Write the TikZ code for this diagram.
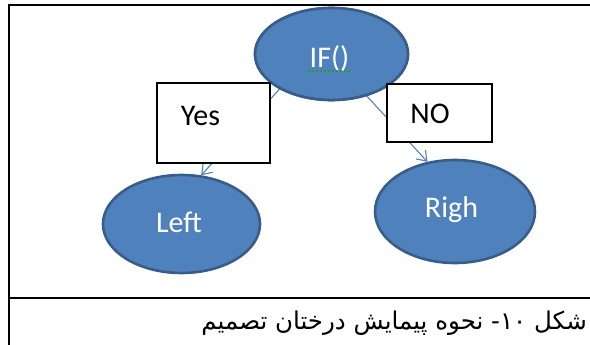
\documentclass[tikz,border=0pt]{standalone}
\usepackage{fontspec}
\usetikzlibrary{shapes.geometric,arrows.meta}
\setmainfont{Carlito}
\newfontfamily\arabicfont[Script=Arabic]{DejaVu Sans}
\TeXXeTstate=1
\definecolor{ofblue}{HTML}{4F81BD}
\definecolor{ofdark}{HTML}{385D8A}
\definecolor{spell}{HTML}{22A022}
\begin{document}
\begin{tikzpicture}[x=1pt,y=-1pt,
  oval/.style={ellipse, draw=ofdark, line width=2.6pt, fill=ofblue, inner sep=0pt},
  tbox/.style={draw=black, line width=1.3pt, fill=white, inner sep=0pt},
  wtxt/.style={text=white, font=\fontsize{30}{31}\selectfont, inner sep=0pt, anchor=base},
  btxt/.style={text=black, font=\fontsize{30}{31}\selectfont, inner sep=0pt, anchor=base},
  conn/.style={draw=ofblue, line width=1.1pt, -{Straight Barb[length=9pt,width=13pt,line width=1.1pt]}},
  frame/.style={line width=2pt, black}]
\useasboundingbox (0,0) rectangle (590,345);
% frame
\draw[frame] (8.5,345) -- (8.5,5) -- (590,5);
\draw[frame] (8.5,297.7) -- (590,297.7);
% nodes
\node[oval, minimum width=153pt, minimum height=92pt] (if) at (331.5,54) {};
\node[oval, minimum width=157pt, minimum height=98pt] (left) at (181.5,224) {};
\node[oval, minimum width=160pt, minimum height=103pt] (right) at (455,211.5) {};
% connectors (drawn under the label boxes)
\path[conn] (if.214) -- (left.68);
\path[conn] (if.310) -- (right.119);
% redraw ellipse over line starts
\node[oval, minimum width=153pt, minimum height=92pt] at (if.center) {};
\node[wtxt] (iftxt) at (329.5,68) {IF()};
\draw[spell, line width=1.4pt, dash pattern=on 2pt off 2pt] (308,71) -- (351,71);
\node[wtxt] (lefttxt) at (179,233) {Left};
\node[wtxt] (righttxt) at (451.5,218) {Righ};
% label boxes
\node[tbox, minimum width=113pt, minimum height=80pt] (yes) at (213.5,123) {};
\node[tbox, minimum width=105pt, minimum height=58pt] (no) at (439.5,113) {};
\node[btxt] (yestxt) at (200.5,125.5) {Yes};
\node[btxt] (notxt) at (430,123.3) {NO};
% caption
\node[anchor=base east, inner sep=0pt, font=\arabicfont\fontsize{24.5}{28}\selectfont] (cap) at (587,329)
  {\beginR شکل \mbox{۱۰}\mbox{-} نحوه پیمایش درختان تصمیم\endR};
\end{tikzpicture}
\end{document}
